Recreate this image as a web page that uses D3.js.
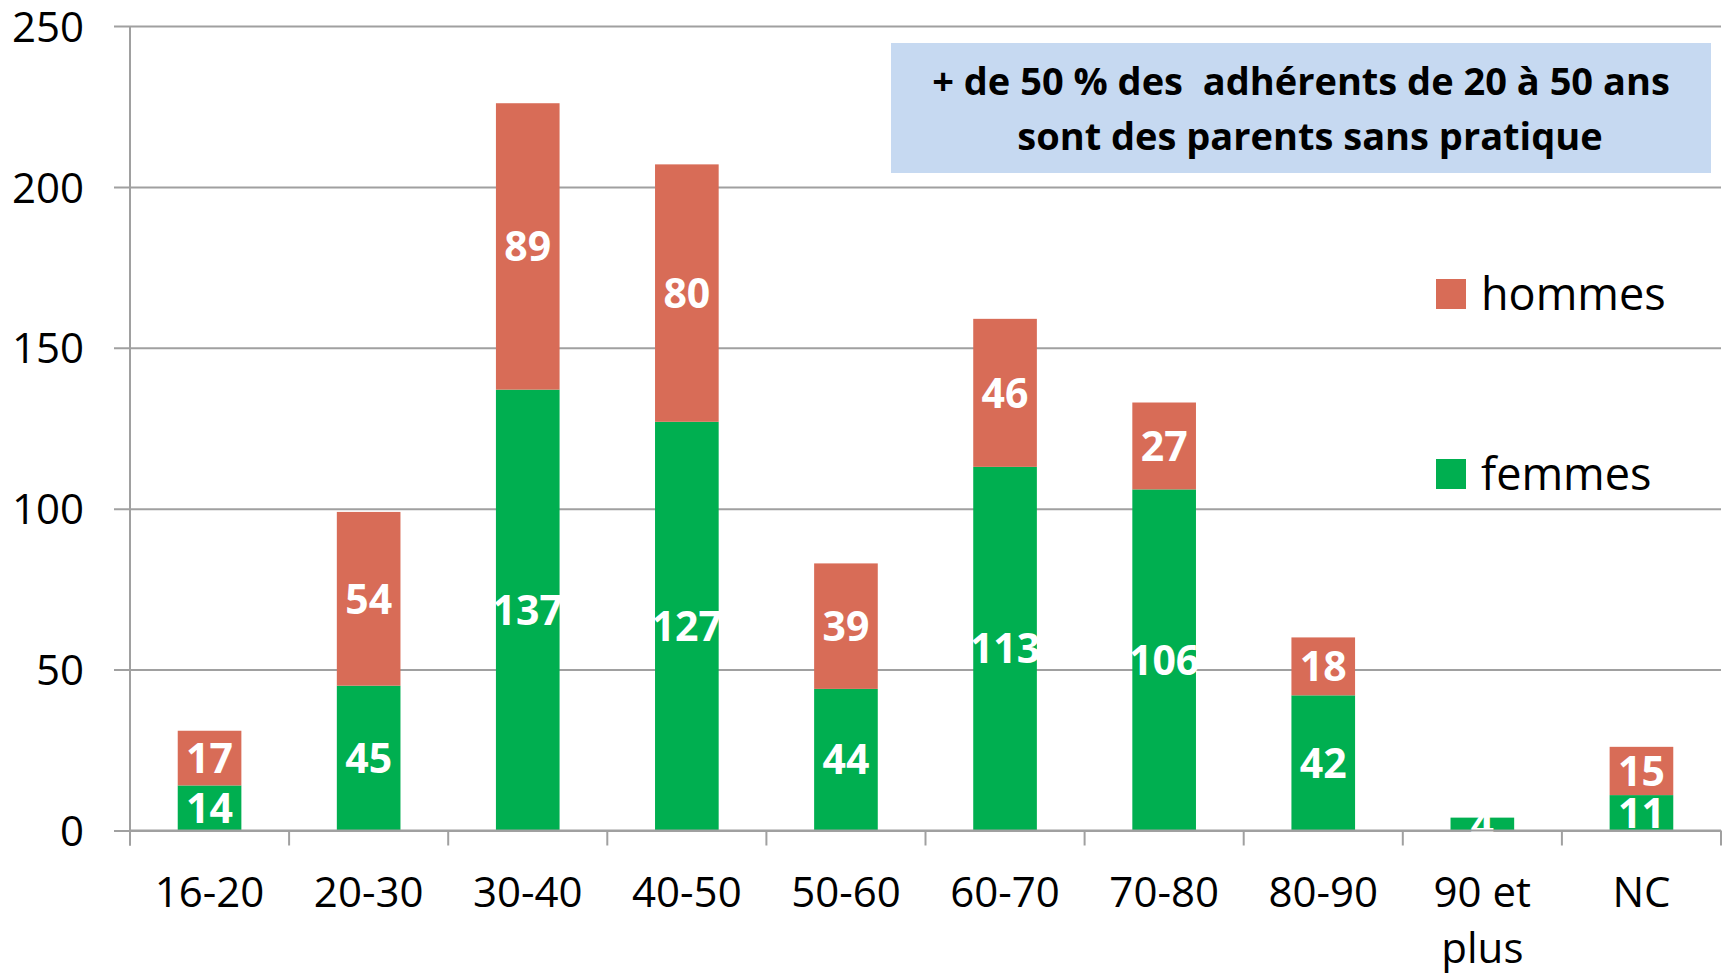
<!DOCTYPE html>
<html>
<head>
<meta charset="utf-8">
<script src="https://cdn.jsdelivr.net/npm/d3@7"></script>
<style>
	body {margin:0; background:#fff;}
	svg {display:block;}
</style>
</head>
<body>
<svg id="chart" width="1725" height="973"></svg>
<script>

var categories = ['16-20','20-30','30-40','40-50','50-60','60-70','70-80','80-90','90 et plus','NC'];
var femmes = [14,45,137,127,44,113,106,42,4,11];
var hommes = [17,54,89,80,39,46,27,18,0,15];
var yTicks = [0,50,100,150,200,250];
var seriesNames = ['hommes','femmes'];
var titleLines = ['+ de 50 % des  adhérents de 20 à 50 ans','sont des parents sans pratique'];

var colHommes = '#D86C57';
var colFemmes = '#00AF50';
var gridCol = '#A0A0A0';
var font = "'Open Sans', sans-serif";

var svg = d3.select('#chart');

var plotL = 130, plotR = 1721, plotB = 830.5, plotT = 26;

var x = d3.scaleBand()
	.domain(categories)
	.range([plotL,plotR])
	.paddingInner(0.6)
	.paddingOuter(0.3);

var y = d3.scaleLinear()
	.domain([0,250])
	.range([plotB,plotT]);

// grid + y labels
var yAxis = d3.axisLeft(y)
	.tickValues(yTicks)
	.tickSize(0)
	.tickPadding(0);

var gy = svg.append('g')
	.attr('transform','translate('+plotL+',0)')
	.call(yAxis);
gy.select('.domain').remove();
gy.selectAll('.tick line')
	.attr('x1',-16)
	.attr('x2',plotR-plotL)
	.attr('stroke',gridCol)
	.attr('stroke-width',2);
gy.selectAll('.tick text')
	.attr('x',-46)
	.attr('dy','0.36em')
	.attr('font-family',font)
	.attr('font-size','42px')
	.attr('fill','#000');

// stacked bars
var rows = categories.map(function (c,i) {return {cat:c, femmes:femmes[i], hommes:hommes[i]};});
var stack = d3.stack().keys(['femmes','hommes']);
var layers = stack(rows);
var colors = {femmes:colFemmes, hommes:colHommes};

layers.forEach(function (layer) {
	svg.selectAll('.bar_'+layer.key).data(layer).enter()
		.append('rect')
		.attr('class','bar_'+layer.key)
		.attr('x',function (d) {return x(d.data.cat);})
		.attr('y',function (d) {return y(d[1]);})
		.attr('width',x.bandwidth())
		.attr('height',function (d) {return y(d[0])-y(d[1]);})
		.attr('fill',colors[layer.key]);
});

layers.forEach(function (layer) {
	svg.selectAll('.lbl_'+layer.key).data(layer.filter(function (d) {return d[1]-d[0]>0;})).enter()
		.append('text')
		.attr('class','lbl_'+layer.key)
		.attr('x',function (d) {return x(d.data.cat)+x.bandwidth()/2;})
		.attr('y',function (d) {return (y(d[0])+y(d[1]))/2;})
		.attr('dy','0.36em')
		.text(function (d) {return d[1]-d[0];})
		.attr('font-family',font)
		.attr('font-weight','bold')
		.attr('font-size','41px')
		.attr('fill','#fff')
		.style('text-anchor','middle');
});

// axes lines
var step = x.step();
svg.append('line')
	.attr('x1',plotL).attr('x2',plotR)
	.attr('y1',y(0)).attr('y2',y(0))
	.attr('stroke',gridCol).attr('stroke-width',2);
svg.append('line')
	.attr('x1',plotL).attr('x2',plotL)
	.attr('y1',y(250)).attr('y2',y(0)+15)
	.attr('stroke',gridCol).attr('stroke-width',2);
svg.selectAll('.xtick').data(d3.range(categories.length+1)).enter()
	.append('line')
	.attr('class','xtick')
	.attr('x1',function (i) {return plotL+i*step;})
	.attr('x2',function (i) {return plotL+i*step;})
	.attr('y1',y(0)).attr('y2',y(0)+15)
	.attr('stroke',gridCol).attr('stroke-width',2);

// x labels
var xAxis = d3.axisBottom(x).tickSize(0).tickPadding(0);
var gx = svg.append('g')
	.attr('transform','translate(0,'+y(0)+')')
	.call(xAxis);
gx.select('.domain').remove();
gx.selectAll('.tick text')
	.attr('font-family',font)
	.attr('font-size','42px')
	.attr('fill','#000')
	.attr('y',76)
	.attr('dy',0)
	.call(wrap, step*0.92);

function wrap(sel, width) {
	sel.each(function () {
		var t = d3.select(this);
		var words = t.text().split(' ');
		var line = [], lines = [];
		t.text('');
		var probe = t.append('tspan');
		words.forEach(function (w) {
			line.push(w);
			probe.text(line.join(' '));
			if (probe.node().getComputedTextLength() > width && line.length > 1) {
				line.pop();
				lines.push(line.join(' '));
				line = [w];
			}
		});
		lines.push(line.join(' '));
		probe.remove();
		lines.forEach(function (l,k) {
			t.append('tspan')
				.attr('x',0)
				.attr('dy',k===0 ? 0 : 56)
				.text(l);
		});
	});
}

// title box
svg.append('rect')
	.attr('x',891).attr('y',43)
	.attr('width',820).attr('height',130)
	.attr('fill','#C6D9F1');
svg.selectAll('.title').data(titleLines).enter()
	.append('text')
	.attr('class','title')
	.attr('x',function (d,i) {return i===0 ? 1301 : 1310;})
	.attr('y',function (d,i) {return 95+i*55;})
	.text(function (d) {return d;})
	.attr('font-family',font)
	.attr('font-weight','bold')
	.attr('font-size','38px')
	.attr('fill','#000')
	.style('text-anchor','middle')
	.style('white-space','pre');

// legend
var legY = {hommes:279, femmes:459};
svg.selectAll('.legbox').data(seriesNames).enter()
	.append('rect')
	.attr('class','legbox')
	.attr('x',1436)
	.attr('y',function (d) {return legY[d];})
	.attr('width',30).attr('height',30)
	.attr('fill',function (d) {return colors[d];});
svg.selectAll('.legtxt').data(seriesNames).enter()
	.append('text')
	.attr('class','legtxt')
	.attr('x',1481)
	.attr('y',function (d) {return legY[d]+31;})
	.text(function (d) {return d;})
	.attr('font-family',font)
	.attr('font-size','45px')
	.attr('fill','#000');

</script>
</body>
</html>
